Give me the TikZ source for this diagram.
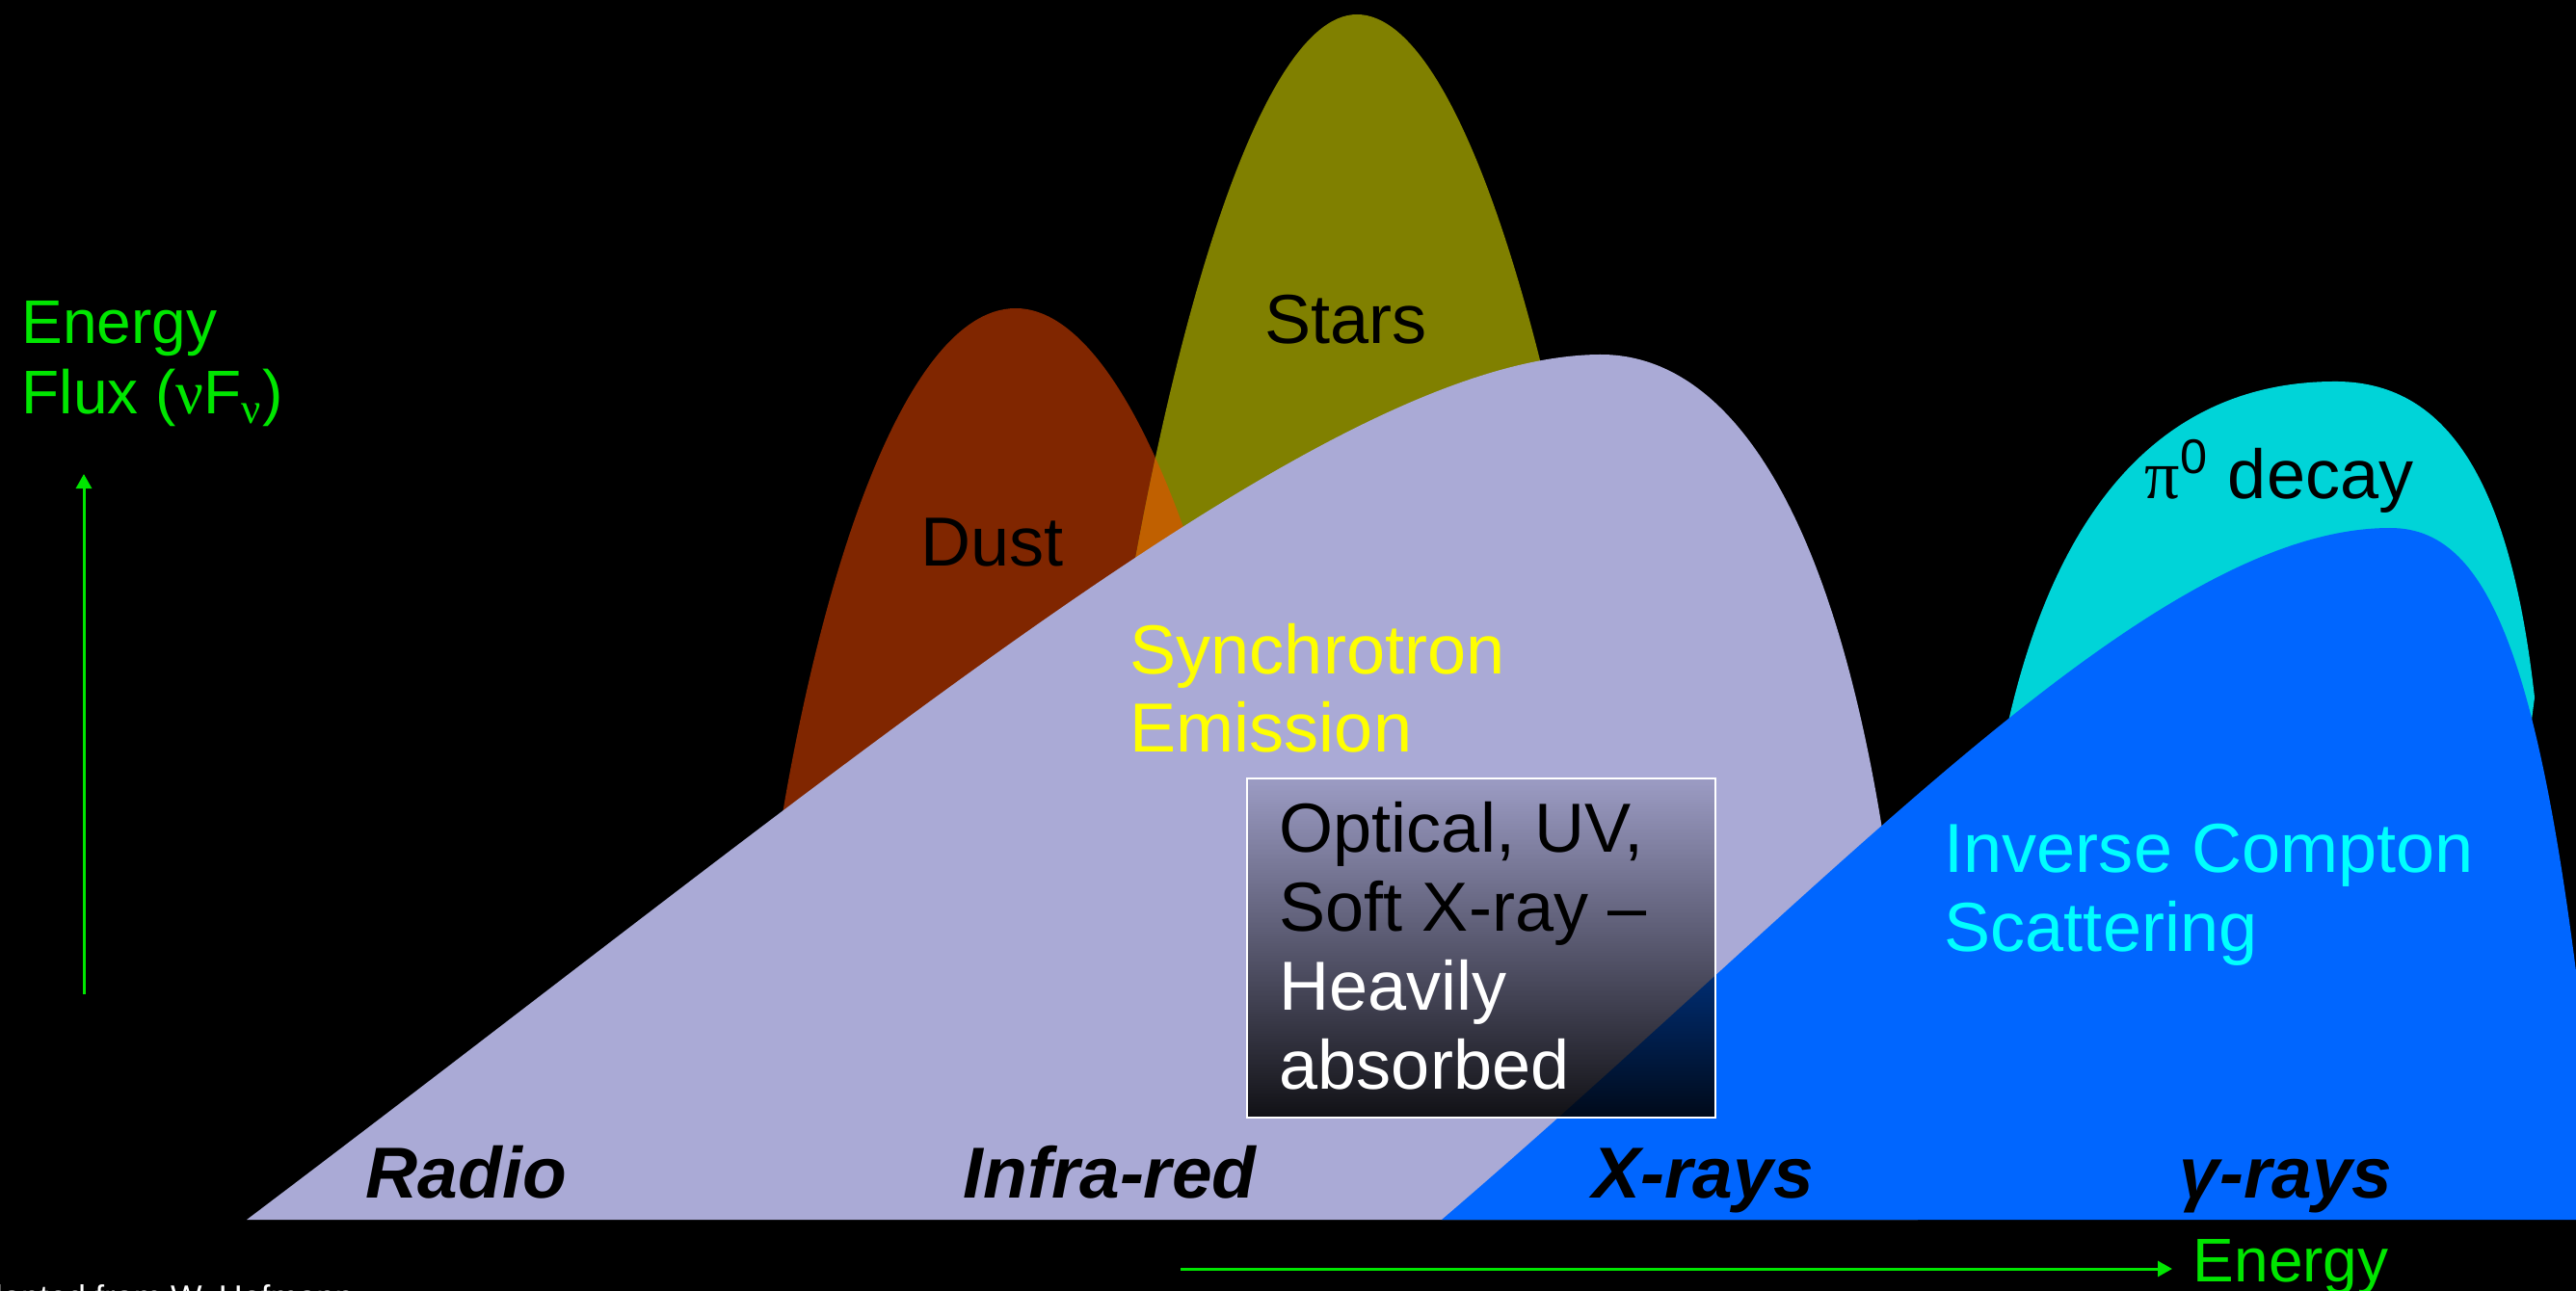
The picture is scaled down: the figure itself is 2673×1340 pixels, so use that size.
\documentclass[tikz,border=0pt]{standalone}
\usepackage{fontspec}
\setmainfont{Liberation Sans}
\newfontfamily\greekfont{Liberation Serif}
\usetikzlibrary{arrows.meta, fadings}

\definecolor{synchro}{RGB}{170,170,214}
\definecolor{compton}{RGB}{0,102,255}
\definecolor{piondecay}{RGB}{0,212,216}
\definecolor{dustred}{RGB}{128,38,0}
\definecolor{starolive}{RGB}{128,128,0}
\definecolor{overlaporange}{RGB}{192,96,0}
\definecolor{axisgreen}{RGB}{0,230,0}
\definecolor{synchyellow}{RGB}{255,255,0}
\definecolor{icscyan}{RGB}{0,255,255}

\tikzfading[name=absorbfade, top color=transparent!92, bottom color=transparent!10]

\newcommand{\dustcurve}{(790,1000) .. controls (830,650) and (930,320) .. (1054,320) .. controls (1170,320) and (1280,620) .. (1330,1000) -- cycle}
\newcommand{\starcurve}{(1130,900) .. controls (1190,400) and (1300,15) .. (1408,15) .. controls (1520,15) and (1620,400) .. (1660,700) -- cycle}

\begin{document}
\begin{tikzpicture}[x=0.01cm, y=-0.01cm,
  lbl/.style={anchor=base west, inner sep=0pt, align=left, font=\fontsize{20.5}{23.3}\selectfont},
  band/.style={anchor=base west, inner sep=0pt, font=\fontsize{21.3}{24}\selectfont\bfseries\itshape},
  axis/.style={draw=axisgreen, line width=0.03cm, -{Triangle[length=0.15cm, width=0.16cm]}},
  axislbl/.style={anchor=base west, inner sep=0pt, align=left, text=axisgreen, font=\fontsize{18.2}{21}\selectfont}]

  \useasboundingbox[fill=black] (0,0) rectangle (2673,1340);

  % humps, back to front
  \fill[dustred] \dustcurve;
  \fill[starolive] \starcurve;
  \begin{scope}
    \clip \dustcurve;
    \fill[overlaporange] \starcurve;
  \end{scope}
  \fill[synchro] (256,1266) .. controls (900,780) and (1380,370) .. (1660,368)
    .. controls (1820,367) and (1965,600) .. (1990,1266) -- cycle;
  \fill[piondecay] (2060,900) .. controls (2090,600) and (2200,398) .. (2420,396)
    .. controls (2540,394) and (2605,500) .. (2630,724) -- (2560,1266) -- cycle;
  \fill[compton] (1496,1266) .. controls (1900,920) and (2230,548) .. (2480,548)
    .. controls (2590,548) and (2650,700) .. (2700,1266) -- cycle;

  % absorbed window
  \coordinate (boxnw) at (1294,808);
  \coordinate (boxse) at (1780,1160);
  \fill[black, path fading=absorbfade] (boxnw) rectangle (boxse);
  \draw[white, line width=0.02cm] (boxnw) rectangle (boxse);

  % base anchor of a multi-line node sits on its last line
  \node[lbl] (dust) at (955,588) {Dust};
  \node[lbl] (stars) at (1312,357) {Stars};
  \node[lbl, text=synchyellow] (synch) at (1172,781) {Synchrotron\\Emission};
  \node[lbl] (absorb) at (1327,1130) {Optical, UV,\\Soft X-ray –\\\textcolor{white}{Heavily}\\\textcolor{white}{absorbed}};
  \node[lbl] (pion) at (2225,518) {{\greekfont π}\textsuperscript{0} decay};
  \node[lbl, text=icscyan] (ics) at (2017,987) {Inverse Compton\\Scattering};

  \node[band] (radio) at (379,1243) {Radio};
  \node[band] (infrared) at (999,1243) {Infra-red};
  \node[band] (xrays) at (1652,1243) {X-rays};
  \node[band] (gammas) at (2261,1243) {γ-rays};

  % axes
  \coordinate (fluxfoot) at (87,1032);
  \coordinate (fluxtip) at (87,492);
  \draw[axis] (fluxfoot) -- (fluxtip);
  \node[axislbl] (fluxlbl) at (22,430) {Energy\\Flux ({\greekfont ν}F\textsubscript{\greekfont ν})};
  \coordinate (energyfoot) at (1225,1317);
  \coordinate (energytip) at (2254,1317);
  \draw[axis] (energyfoot) -- (energytip);
  \node[axislbl] (energylbl) at (2275,1330) {Energy};

  \begin{scope}
    \clip (0,0) rectangle (2673,1340);
    \node[anchor=base west, inner sep=0pt, text=white, font=\fontsize{9.8}{12}\selectfont] (credit) at (-40,1358) {Adapted from W. Hofmann};
  \end{scope}
\end{tikzpicture}
\end{document}
